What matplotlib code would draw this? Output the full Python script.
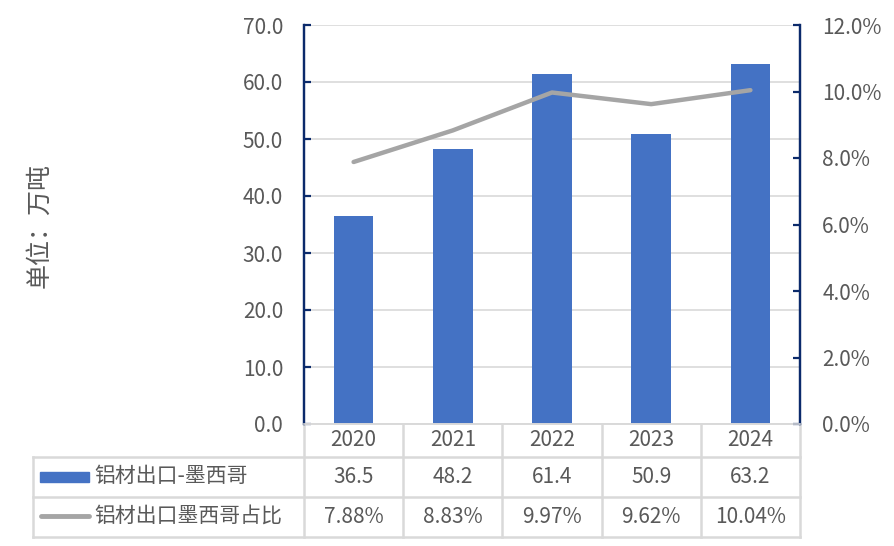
import matplotlib.pyplot as plt
import matplotlib.transforms as mtransforms
from matplotlib.lines import Line2D
from matplotlib.patches import Rectangle
import numpy as np

plt.rcParams['font.family'] = ['Noto Sans CJK SC', 'DejaVu Sans']

# 数据
anos = ['2020', '2021', '2022', '2023', '2024']
exportacao = [36.5, 48.2, 61.4, 50.9, 63.2]
participacao = [7.88, 8.83, 9.97, 9.62, 10.04]
nome_barra = '铝材出口-墨西哥'
nome_linha = '铝材出口墨西哥占比'
rotulo_y = '单位：万吨'

azul = '#4472C4'
cinza = '#A5A5A5'
texto = '#595959'
grade = '#D9D9D9'
marinho = '#0B2A6B'
fs = 15

W, H = 895, 546
fig = plt.figure(figsize=(W / 100, H / 100), dpi=100)

def fx(p):
    return p / W

def fy(p):
    return 1 - p / H

x0, x1, ytop, ybot = 304, 800, 25, 424
ax = fig.add_axes([fx(x0), fy(ybot), fx(x1 - x0), (ybot - ytop) / H])
ax2 = ax.twinx()

x = np.arange(len(anos))
ax.bar(x, exportacao, width=0.4, color=azul, zorder=2)
ax2.plot(x, participacao, color=cinza, lw=3.2, solid_capstyle='round', zorder=3)

ax.set_xlim(-0.5, len(anos) - 0.5)
ax.set_ylim(0, 70)
ax.set_yticks(np.arange(0, 71, 10))
ax.set_yticklabels(['%.1f' % v for v in np.arange(0, 71, 10)])
ax2.set_ylim(0, 12)
ax2.set_yticks(np.arange(0, 13, 2))
ax2.set_yticklabels(['%.1f%%' % v for v in np.arange(0, 13, 2)])
ax.grid(axis='y', color=grade, lw=1.2, zorder=0)
ax.set_axisbelow(True)
ax.set_xticks([])

for a in (ax, ax2):
    a.spines['top'].set_visible(False)
    a.spines['bottom'].set_color(grade)
    a.spines['bottom'].set_linewidth(1.2)
    a.spines['left'].set_color(marinho)
    a.spines['right'].set_color(marinho)
    a.spines['left'].set_linewidth(1.6)
    a.spines['right'].set_linewidth(1.6)
ax.tick_params(axis='y', direction='in', length=5, width=1.6, color=marinho,
               labelcolor=texto, labelsize=fs, pad=15)
ax2.tick_params(axis='y', direction='in', length=5, width=1.6, color=marinho,
                labelcolor=texto, labelsize=fs, pad=16)

fig.text(fx(39), fy(225), rotulo_y, rotation=90, ha='center', va='center',
         color=texto, fontsize=18)

# tabela de dados
def ay(p):
    return (ybot - p) / (ybot - ytop)

tr_x = ax.get_xaxis_transform()
tr_fig = mtransforms.blended_transform_factory(fig.transFigure, ax.transAxes)
linhas = [457, 497, 537]
kw = dict(color=grade, lw=1.8, clip_on=False)

# bordas horizontais
for yy in linhas:
    ax.add_artist(Line2D([fx(33), fx(x1)], [ay(yy), ay(yy)], transform=tr_fig, **kw))
# bordas verticais
for i in range(len(anos) + 1):
    ax.add_artist(Line2D([i - 0.5, i - 0.5], [0, ay(537)], transform=tr_x, **kw))
ax.add_artist(Line2D([fx(33), fx(33)], [ay(457), ay(537)], transform=tr_fig, **kw))

for i, ano in enumerate(anos):
    ax.text(i, ay(440.5), ano, transform=tr_x, ha='center', va='center',
            color=texto, fontsize=fs)
    ax.text(i, ay(477), '%.1f' % exportacao[i], transform=tr_x, ha='center',
            va='center', color=texto, fontsize=fs)
    ax.text(i, ay(517), '%.2f%%' % participacao[i], transform=tr_x, ha='center',
            va='center', color=texto, fontsize=fs)

# legenda dentro da tabela
fig.add_artist(Rectangle((fx(40), fy(482)), fx(49), 10 / H, color=azul))
fig.add_artist(Line2D([fx(41), fx(89)], [fy(516), fy(516)], color=cinza,
                      lw=3.5, solid_capstyle='round'))
fig.text(fx(94), fy(476), nome_barra, ha='left', va='center', color=texto, fontsize=fs)
fig.text(fx(94), fy(516), nome_linha, ha='left', va='center', color=texto, fontsize=fs)

plt.savefig('out.png', dpi=100)
